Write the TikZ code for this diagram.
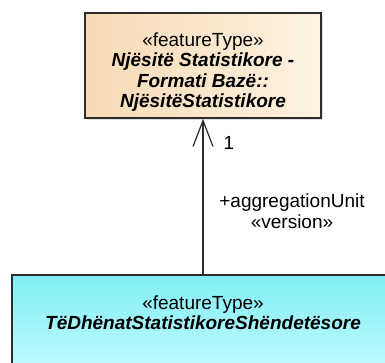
\documentclass[tikz,border=0pt]{standalone}
\usepackage{fontspec}
\setmainfont{Liberation Sans}
\usetikzlibrary{arrows.meta,shadows}

\definecolor{umlline}{RGB}{45,45,45}
\definecolor{beigeleft}{RGB}{246,218,180}
\definecolor{beigeright}{RGB}{253,242,226}
\definecolor{cyantop}{RGB}{128,238,245}
\definecolor{cyanbottom}{RGB}{200,252,255}

\begin{document}
\begin{tikzpicture}[x=0.5pt,y=-0.5pt,
		classbox/.style={draw=umlline, line width=0.85pt, rectangle, inner sep=0pt,
			drop shadow={shadow xshift=1.2pt, shadow yshift=-1.2pt, opacity=0.25}},
		classtext/.style={align=center, inner sep=0pt, font=\fontsize{9.5}{10.25}\selectfont},
		lbl/.style={inner sep=0pt, font=\fontsize{9.5}{10.5}\selectfont},
		assoc/.style={draw=umlline, line width=0.6pt, -{Straight Barb[length=13pt,width=10pt]}}]
			\useasboundingbox (0,0) rectangle (385,363);
			\fill[white] (0,0) rectangle (385,363);
			\clip (0,0) rectangle (385,363);
			
			% classes
			\node[classbox, left color=beigeleft, right color=beigeright,
				minimum width=118pt, minimum height=52.5pt] (topcls) at (203,65.5){};
			\node[classtext] (topname) at (203,72){«featureType»\\
				\textbf{\textit{Njësitë Statistikore -}}\\
				\textbf{\textit{Formati Bazë::}}\\
				\textbf{\textit{NjësitëStatistikore}}};
			\node[classbox, top color=cyantop, bottom color=cyanbottom,
				minimum width=191pt, minimum height=52.5pt] (botcls) at (203,327.5){};
			\node[classtext] (botname) at (203,312.5){«featureType»\\
				\textbf{\textit{TëDhënatStatistikoreShëndetësore}}};
			
			% association
			\draw[assoc] (botcls.north) -- (topcls.south);
			\node[lbl] (mult) at (229,143){1};
			\node[lbl, align=center] (role) at (292,211){+aggregationUnit\\«version»};
		
		\end{tikzpicture}
\end{document}
